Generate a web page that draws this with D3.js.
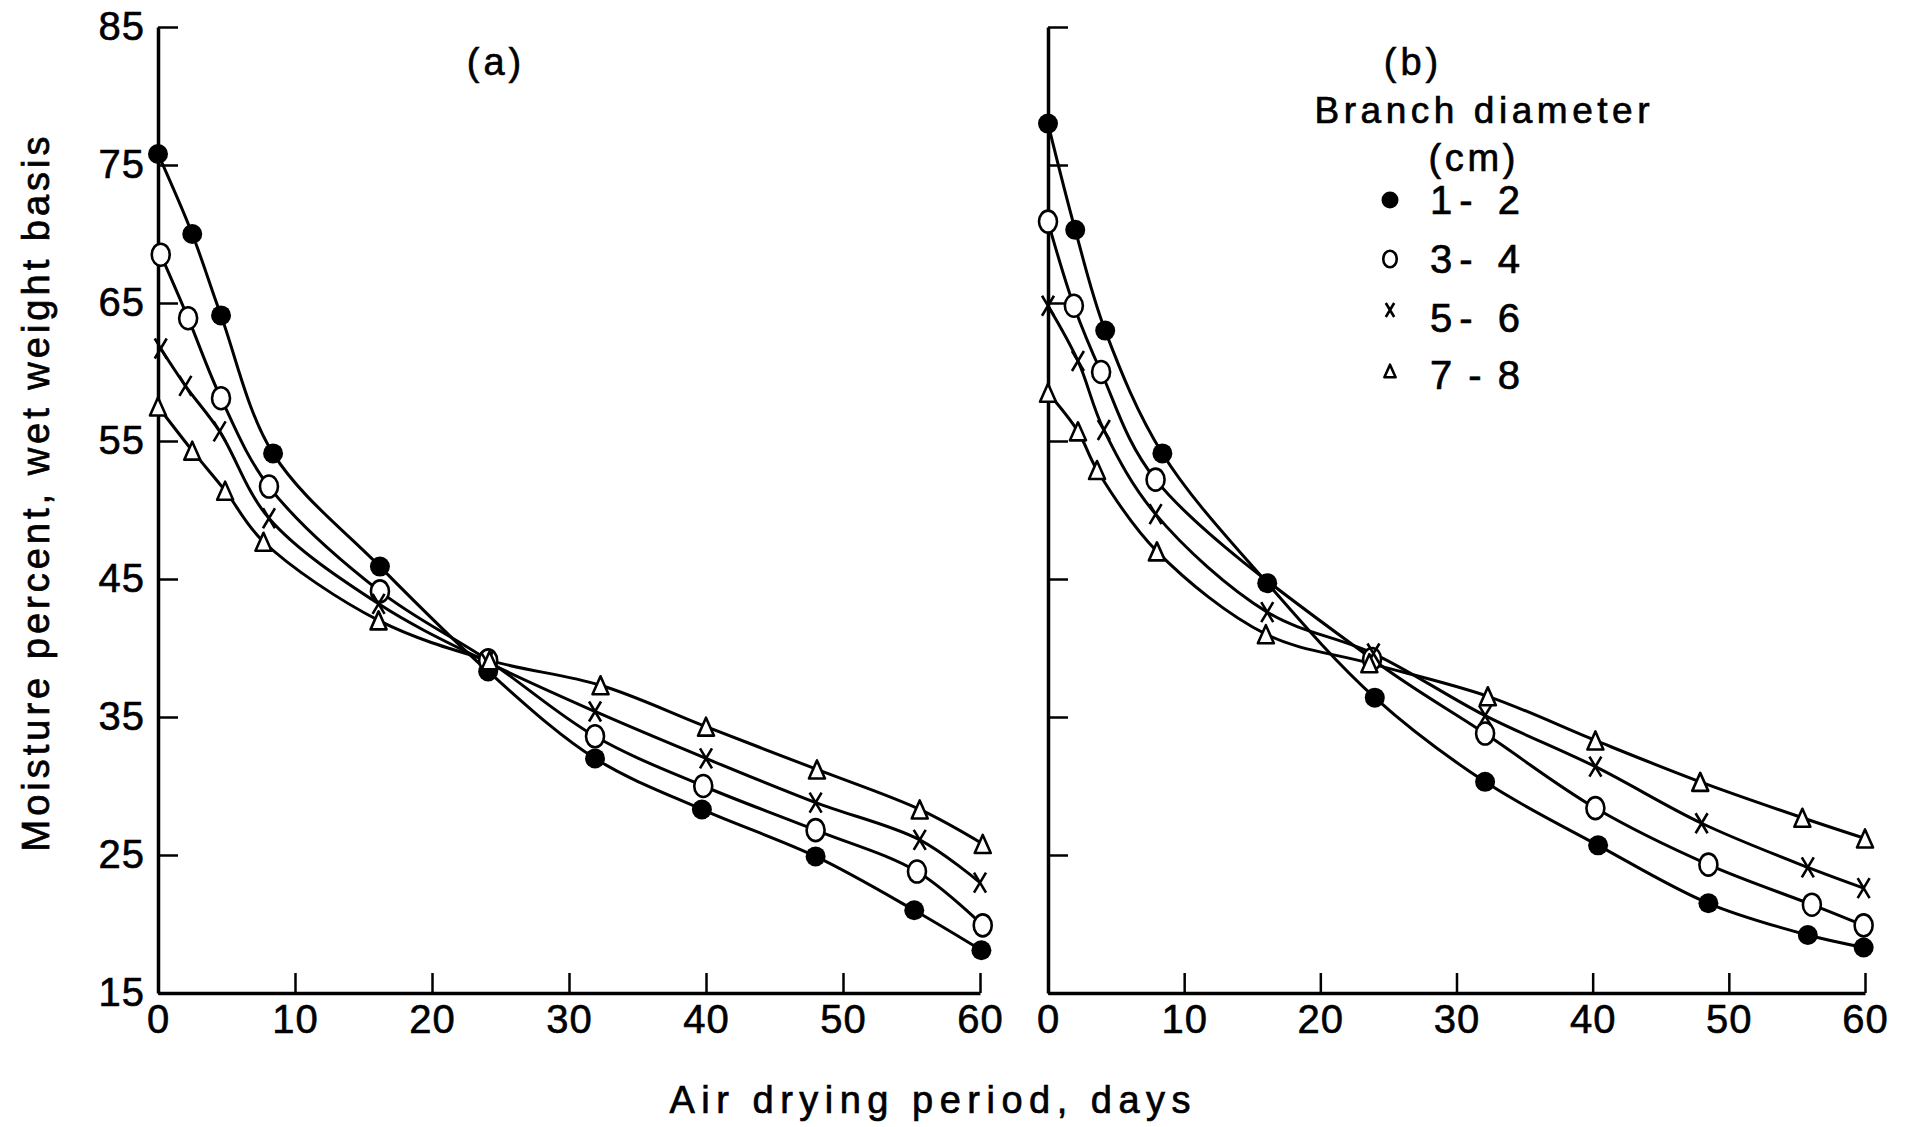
<!DOCTYPE html>
<html>
<head>
<meta charset="utf-8">
<script src="https://cdn.jsdelivr.net/npm/d3@7"></script>
<style>
  html, body { margin: 0; padding: 0; background: #fff; }
  svg { display: block; }
</style>
</head>
<body>
<svg id="chart" width="1906" height="1127"></svg>
<script>
// ---- data (days, moisture %) ----
const yTicks = [15, 25, 35, 45, 55, 65, 75, 85];
const xTicks = [0, 10, 20, 30, 40, 50, 60];
const legendLabels = ['1- 2', '3- 4', '5- 6', '7 - 8'];

// panel (a)
const aFilledDays = [0, 2.5, 4.6, 8.4, 16.2, 24.1, 31.9, 39.7, 48.0, 55.2, 60.1];
const aFilledVals = [75.8, 70.0, 64.1, 54.1, 45.9, 38.3, 32.0, 28.3, 24.9, 21.0, 18.1];
const aOpenDays = [0.2, 2.2, 4.6, 8.1, 16.2, 24.1, 31.9, 39.8, 48.0, 55.4, 60.2];
const aOpenVals = [68.5, 63.9, 58.1, 51.7, 44.1, 39.1, 33.6, 30.0, 26.8, 23.8, 19.9];
const aCrossDays = [0.2, 2.0, 4.5, 8.1, 16.1, 24.0, 31.9, 40.0, 48.0, 55.6, 60.0];
const aCrossVals = [61.7, 59.0, 55.7, 49.4, 43.2, 39.0, 35.4, 32.0, 28.8, 26.1, 23.0];
const aTriDays = [0, 2.5, 4.9, 7.7, 16.1, 24.2, 32.3, 40.0, 48.1, 55.6, 60.2];
const aTriVals = [57.5, 54.3, 51.4, 47.7, 42.0, 39.1, 37.3, 34.3, 31.2, 28.3, 25.8];

// panel (b)
const bFilledDays = [0, 2.0, 4.2, 8.4, 16.1, 24.0, 32.1, 40.4, 48.5, 55.8, 59.9];
const bFilledVals = [78.0, 70.3, 63.0, 54.1, 44.7, 36.4, 30.3, 25.7, 21.5, 19.2, 18.3];
const bOpenDays = [0, 1.9, 3.9, 7.9, 23.8, 32.1, 40.2, 48.5, 56.1, 59.9];
const bOpenVals = [70.9, 64.8, 60.0, 52.2, 39.2, 33.8, 28.4, 24.3, 21.4, 19.9];
const bCrossDays = [0, 2.2, 4.1, 7.9, 16.1, 23.9, 32.1, 40.2, 48.0, 55.8, 59.9];
const bCrossVals = [64.8, 60.8, 55.8, 49.7, 42.6, 39.6, 35.1, 31.4, 27.3, 24.1, 22.6];
const bTriDays = [0, 2.2, 3.6, 8.0, 16.0, 23.6, 32.3, 40.2, 47.9, 55.4, 60.0];
const bTriVals = [58.5, 55.7, 52.9, 47.0, 41.0, 38.9, 36.5, 33.3, 30.3, 27.7, 26.2];

const FONT = '"Liberation Sans", Arial, sans-serif';
const svg = d3.select('#chart');

const zip = (days, vals) => days.map((d, i) => ({ d: d, v: vals[i] }));

const panels = [
    {
        title: '(a)', titleX: 496, x0: 158, x1: 980, labels: true,
        series: [
            { sym: 'filled', pts: zip(aFilledDays, aFilledVals) },
            { sym: 'open', pts: zip(aOpenDays, aOpenVals) },
            { sym: 'cross', pts: zip(aCrossDays, aCrossVals) },
            { sym: 'tri', pts: zip(aTriDays, aTriVals) }
        ]
    },
    {
        title: '(b)', titleX: 1413, x0: 1048, x1: 1865, labels: false,
        series: [
            { sym: 'filled', pts: zip(bFilledDays, bFilledVals) },
            { sym: 'open', pts: zip(bOpenDays, bOpenVals) },
            { sym: 'cross', pts: zip(bCrossDays, bCrossVals) },
            { sym: 'tri', pts: zip(bTriDays, bTriVals) }
        ]
    }
];

const y = d3.scaleLinear().domain([15, 85]).range([993, 27]);

// draw one marker into a <g> already translated to the point
const drawSymbol = (g, sym, s) => {
    if (sym === 'filled') {
        g.append('circle').attr('r', 10 * s).attr('fill', '#000');
    } else if (sym === 'open') {
        g.append('ellipse').attr('rx', 9 * s).attr('ry', 11 * s)
            .attr('fill', '#fff').attr('stroke', '#000').attr('stroke-width', 2.6);
    } else if (sym === 'cross') {
        const hw = 6 * s, hh = 10 * s;
        g.append('path').attr('d', `M${-hw},${-hh}L${hw},${hh}M${hw},${-hh}L${-hw},${hh}`)
            .attr('stroke', '#000').attr('stroke-width', 2.6).attr('fill', 'none');
    } else {
        const hw = 8 * s, h = 18 * s;
        g.append('path').attr('d', `M0,${-h / 2}L${hw},${h / 2}L${-hw},${h / 2}Z`)
            .attr('fill', '#fff').attr('stroke', '#000').attr('stroke-width', 2.6)
            .attr('stroke-linejoin', 'round');
    }
};

panels.forEach(p => {
    const x = d3.scaleLinear().domain([0, 60]).range([p.x0, p.x1]);
    const g = svg.append('g');

    // axes, ticks pointing inward
    const yAxis = g.append('g')
        .attr('transform', `translate(${p.x0},0)`)
        .call(d3.axisLeft(y).tickValues(yTicks)
            .tickSizeInner(-20).tickSizeOuter(0).tickPadding(13)
            .tickFormat(p.labels ? d3.format('d') : () => ''));
    const xAxis = g.append('g')
        .attr('transform', `translate(0,${y(15)})`)
        .call(d3.axisBottom(x).tickValues(xTicks)
            .tickSizeInner(-20).tickSizeOuter(0).tickPadding(12)
            .tickFormat(d3.format('d')));

    [yAxis, xAxis].forEach(ax => {
        ax.select('.domain').attr('stroke', '#000').attr('stroke-width', 3.5);
        ax.selectAll('.tick line').attr('stroke', '#000').attr('stroke-width', 2.5);
        ax.selectAll('.tick text')
            .attr('font-family', FONT).attr('font-size', 40)
            .attr('fill', '#000').attr('stroke', '#000').attr('stroke-width', 0.6)
            .attr('letter-spacing', 1);
    });

    // fitted curves
    const line = d3.line()
        .x(d => x(d.d)).y(d => y(d.v))
        .curve(d3.curveCatmullRom.alpha(0.5));

    g.append('g').selectAll('path')
        .data(p.series)
        .join('path')
        .attr('d', s => line(s.pts))
        .attr('fill', 'none')
        .attr('stroke', '#000')
        .attr('stroke-width', 3);

    // markers
    p.series.forEach(s => {
        g.append('g').selectAll('g')
            .data(s.pts)
            .join('g')
            .attr('transform', d => `translate(${x(d.d)},${y(d.v)})`)
            .each(function () { drawSymbol(d3.select(this), s.sym, 1); });
    });

    // panel title
    g.append('text')
        .attr('x', p.titleX).attr('y', 62).attr('dy', '0.35em')
        .attr('text-anchor', 'middle')
        .attr('font-family', FONT).attr('font-size', 38)
        .attr('stroke', '#000').attr('stroke-width', 0.6)
        .attr('letter-spacing', 4)
        .text(p.title);
});

// text helper
const txt = (xp, yp, t, size, len, anchor) => {
    const el = svg.append('text')
        .attr('x', xp).attr('y', yp).attr('dy', '0.35em')
        .attr('text-anchor', anchor || 'middle')
        .attr('font-family', FONT).attr('font-size', size)
        .attr('fill', '#000').attr('stroke', '#000').attr('stroke-width', 0.7)
        .text(t);
    if (len) el.attr('textLength', len).attr('lengthAdjust', 'spacing');
    return el;
};

// legend (inside panel b)
txt(1482, 110, 'Branch diameter', 37, 335);
txt(1472, 158, '(cm)', 38, 87);

const legendY = [200, 259, 318, 375];
const legendSym = ['filled', 'open', 'cross', 'tri'];
const legendSymDy = [0, 0, -8, -4];
const legendSymSize = [0.85, 0.75, 0.7, 0.7];
legendLabels.forEach((lab, i) => {
    const gg = svg.append('g')
        .attr('transform', `translate(1390,${legendY[i] + legendSymDy[i]})`);
    drawSymbol(gg, legendSym[i], legendSymSize[i]);
    txt(1430, legendY[i], lab, 40, 90, 'start');
});

// axis titles
txt(36, 494, 'Moisture percent, wet weight basis', 38, 715)
    .attr('transform', 'rotate(-90,36,494)');
txt(930, 1100, 'Air drying period, days', 38, 521);
</script>
</body>
</html>
